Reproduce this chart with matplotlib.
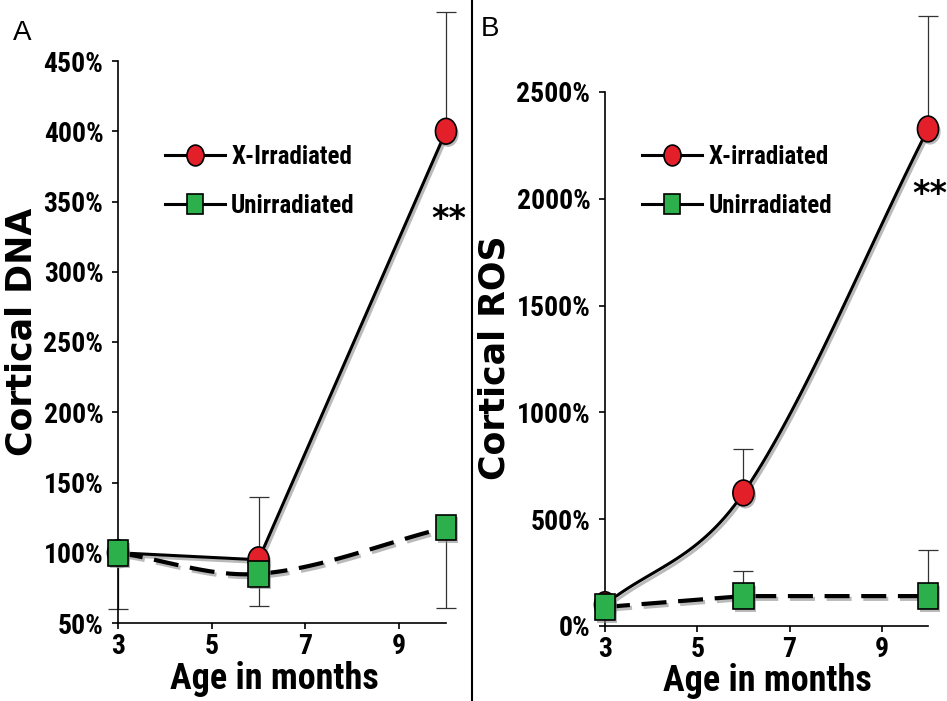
import numpy as np
import matplotlib
matplotlib.use('Agg')
import matplotlib.pyplot as plt
from matplotlib import patheffects as pe
from matplotlib import font_manager
from matplotlib.markers import MarkerStyle
from matplotlib.transforms import Affine2D
from matplotlib.lines import Line2D

# data (percent of 3-month value)
months = [3, 6, 10]
dna_xray = [100, 95, 400]
dna_xray_up = [0, 45, 85]
dna_unirr = [100, 85, 118]
dna_unirr_down = [40, 23, 57]

ros_xray = [100, 623, 2327]
ros_xray_up = [0, 206, 529]
ros_unirr = [89, 140, 140]
ros_unirr_up = [0, 117, 216]

dna_ticks = list(range(50, 451, 50))
ros_ticks = list(range(0, 2501, 500))
x_ticks = [3, 5, 7, 9]

RED = '#e3202a'
GREEN = '#2bb04c'

# narrow bold face like the original's Arial Narrow, if one is installed
fonts = font_manager.fontManager.ttflist
NARROW = 'Liberation Sans'
for cand in ['Roboto Condensed', 'Archivo Narrow', 'Liberation Sans Narrow']:
    if any(f.name == cand and f.weight in (700, 'bold') for f in fonts):
        NARROW = cand
        break


def smooth(x, y, n=60):
    # cubic hermite curve through the points (drawing only)
    x = np.asarray(x, float)
    y = np.asarray(y, float)
    sl = np.diff(y) / np.diff(x)
    m = np.empty_like(y)
    m[0], m[-1] = sl[0], sl[-1]
    m[1:-1] = (y[2:] - y[:-2]) / (x[2:] - x[:-2])
    xs, ys = [], []
    t = np.linspace(0, 1, n)
    for i in range(len(x) - 1):
        h = x[i + 1] - x[i]
        h00 = 2 * t**3 - 3 * t**2 + 1
        h10 = t**3 - 2 * t**2 + t
        h01 = -2 * t**3 + 3 * t**2
        h11 = t**3 - t**2
        xs.append(x[i] + t * h)
        ys.append(h00 * y[i] + h10 * h * m[i] + h01 * y[i + 1] + h11 * h * m[i + 1])
    return np.concatenate(xs), np.concatenate(ys)


circ = MarkerStyle('o', transform=Affine2D().scale(0.82, 1.0))
sq = MarkerStyle('s', transform=Affine2D().scale(0.8, 1.0))
line_fx = [pe.SimpleLineShadow(offset=(1.5, -2), shadow_color='0.55', alpha=0.6), pe.Normal()]
mark_fx = [pe.SimplePatchShadow(offset=(1.5, -2), shadow_rgbFace='0.55', alpha=0.6), pe.Normal()]


def errbars(ax, y, lo, hi):
    cont = ax.errorbar(months, y, yerr=[lo, hi], fmt='none', ecolor='#333333',
                       elinewidth=0.9, capsize=7, capthick=0.9, zorder=1)
    _, caps, bars = cont.lines
    for a in list(caps) + list(bars):
        a.set_clip_on(False)


def draw_series(ax, y, smooth_it, marker, face, dashed, z):
    if smooth_it:
        xs, ys = smooth(months, y)
    else:
        xs, ys = months, y
    kw = dict(color='k', lw=2.2, zorder=z, clip_on=False, path_effects=line_fx)
    if dashed:
        kw.update(lw=3, dashes=(6, 2.8))
    ax.plot(xs, ys, **kw)
    ax.plot(months, y, ls='none', marker=marker, ms=18.5, mfc=face, mec='k', mew=1.2,
            zorder=z + 1, clip_on=False, path_effects=mark_fx)


def style_axes(ax, yticks, ylim, label_xy):
    ax.set_xlim(3, 10)
    ax.set_ylim(*ylim)
    for s in ['top', 'right']:
        ax.spines[s].set_visible(False)
    for s in ['left', 'bottom']:
        ax.spines[s].set_linewidth(1.2)
    ax.set_xticks(x_ticks)
    ax.set_xticklabels([str(v) for v in x_ticks])
    ax.set_yticks(yticks)
    ax.set_yticklabels([f'{v}%' for v in yticks])
    ax.tick_params(axis='both', length=4.5, width=1.2, direction='out')
    ax.tick_params(axis='y', pad=6)
    ax.tick_params(axis='x', pad=3)
    for lab in ax.get_xticklabels() + ax.get_yticklabels():
        lab.set_fontfamily(NARROW)
        lab.set_fontweight('bold')
        lab.set_fontsize(20)
    ax.set_facecolor('none')
    ax.set_xlabel('Age in months', fontfamily=NARROW, fontweight='bold', fontsize=26)
    ax.xaxis.set_label_coords(*label_xy)


def legend(ax, first, anchor):
    h1 = Line2D([], [], color='k', lw=2.2, marker=circ, ms=15, mfc=RED, mec='k', mew=1.2)
    h2 = Line2D([], [], color='k', lw=2.2, marker=sq, ms=15, mfc=GREEN, mec='k', mew=1.2)
    ax.legend([h1, h2], [first, 'Unirradiated'], loc='center left', bbox_to_anchor=anchor,
              frameon=False, borderpad=0, borderaxespad=0, handlelength=2.4,
              handletextpad=0.25, labelspacing=1.0,
              prop={'family': NARROW, 'weight': 'bold', 'size': 18})


fig = plt.figure(figsize=(9.47, 7.01), dpi=100)
fig.patch.set_facecolor('white')

# panel A
axA = fig.add_axes([118 / 947, 78 / 701, 328 / 947, 562 / 701])
errbars(axA, dna_xray, [0, 0, 0], dna_xray_up)
errbars(axA, dna_unirr, dna_unirr_down, [0, 0, 0])
draw_series(axA, dna_xray, False, circ, RED, False, 3)
draw_series(axA, dna_unirr, True, sq, GREEN, True, 5)
style_axes(axA, dna_ticks, (50, 450), (0.476, -0.068))
legend(axA, 'X-Irradiated', (0.143, 0.786))
axA.text(10.06, 337, '**', fontsize=24, fontweight='bold', ha='center', va='center',
         fontfamily='DejaVu Sans')

# panel B
axB = fig.add_axes([605 / 947, 75 / 701, 323 / 947, 534 / 701])
errbars(axB, ros_xray, [0, 0, 0], ros_xray_up)
errbars(axB, ros_unirr, [0, 0, 0], ros_unirr_up)
draw_series(axB, ros_xray, True, circ, RED, False, 3)
draw_series(axB, ros_unirr, False, sq, GREEN, True, 5)
style_axes(axB, ros_ticks, (0, 2500), (0.502, -0.070))
legend(axB, 'X-irradiated', (0.115, 0.833))
axB.text(10.05, 2020, '**', fontsize=24, fontweight='bold', ha='center', va='center',
         fontfamily='DejaVu Sans')

# y labels
fig.text(22 / 947, 1 - 332 / 701, 'Cortical DNA', rotation=90, ha='center', va='center',
         fontsize=25, fontweight='bold', fontfamily='DejaVu Sans')
fig.text(494 / 947, 1 - 358 / 701, 'Cortical ROS', rotation=90, ha='center', va='center',
         fontsize=25, fontweight='bold', fontfamily='DejaVu Sans')

# panel letters and divider
fig.text(13 / 947, 1 - 40 / 701, 'A', fontsize=20, fontfamily='Liberation Sans', va='baseline')
fig.text(481 / 947, 1 - 36 / 701, 'B', fontsize=20, fontfamily='Liberation Sans', va='baseline')
fig.add_artist(Line2D([472 / 947, 472 / 947], [0, 1], color='k', lw=1.5))

fig.savefig('out.png', dpi=100)
